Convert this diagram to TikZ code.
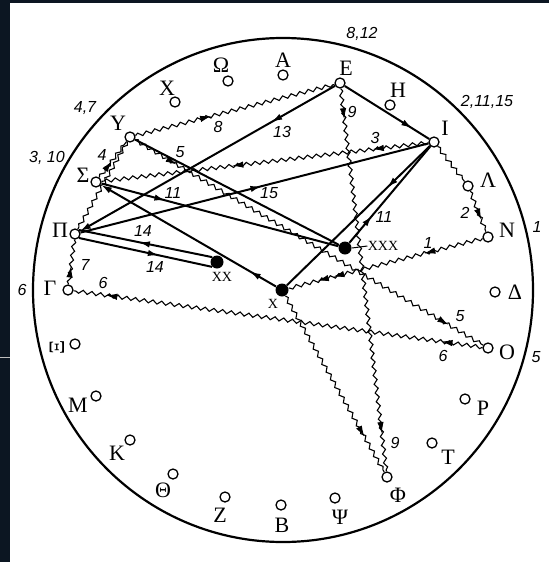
\documentclass[tikz,border=0pt]{standalone}
\usepackage{fontspec}
\setmainfont{Liberation Serif}
\setsansfont{Liberation Sans}
\usetikzlibrary{arrows.meta, decorations.pathmorphing, decorations.markings}
\definecolor{pagebg}{RGB}{12, 22, 34}

\begin{document}
\begin{tikzpicture}[
        x=0.5pt, y=-0.5pt,
        stn/.style={draw, circle, line width=0.65pt, minimum size=5pt, inner sep=0pt, fill=white},
        dot/.style={fill, circle, minimum size=6.5pt, inner sep=0pt},
        glyph/.style={font=\fontsize{11}{13}\selectfont, inner sep=0pt},
        num/.style={font=\sffamily\itshape\fontsize{8}{9}\selectfont, inner sep=0pt},
        tag/.style={font=\fontsize{7}{8}\selectfont, inner sep=0pt},
        rim/.style={line width=1.1pt},
        route/.style={line width=1pt},
        wavy/.style={preaction={draw, line width=0.55pt, decorate, decoration={snake, segment length=4.4pt, amplitude=0.9pt}}},
        tip/.style={postaction={decorate, decoration={markings, mark=at position #1 with {\arrow{Latex[length=5.5pt,width=3.2pt]}}}}}
    ]
    \useasboundingbox (0,0) rectangle (549,562);
    % Background
    \fill[pagebg] (0,0) rectangle (549,562);
    \fill[white] (10,3) rectangle (549,562);
    \draw[gray!50, line width=0.5pt] (0,357) -- (10,357);
    \draw[rim] (283,290) ellipse [x radius=125pt, y radius=126pt];

    % Stations
    \node[stn] (Om) at (228,81) {};
    \node[stn] (Al) at (283,75) {};
    \node[stn] (Ch) at (175,102) {};
    \node[stn] (Up) at (130,137) {};
    \node[stn] (Si) at (96,182) {};
    \node[stn] (Pi) at (75,234) {};
    \node[stn] (Ga) at (68,290) {};
    \node[stn] (Xi) at (75,344) {};
    \node[stn] (Mu) at (96,396) {};
    \node[stn] (Ka) at (130,440) {};
    \node[stn] (Th) at (173,474) {};
    \node[stn] (Ze) at (225,497) {};
    \node[stn] (Be) at (281,505) {};
    \node[stn] (Ps) at (335,498) {};
    \node[stn] (Ph) at (387,477) {};
    \node[stn] (Ta) at (432,443) {};
    \node[stn] (Rh) at (465,399) {};
    \node[stn] (Oo) at (488,348) {};
    \node[stn] (De) at (495,292) {};
    \node[stn] (Nu) at (488,237) {};
    \node[stn] (La) at (468,186) {};
    \node[stn] (Io) at (434,142) {};
    \node[stn] (Et) at (390,105) {};
    \node[stn] (Ep) at (340,83) {};

    \node[dot] (x1) at (282,290) {};
    \node[dot] (x2) at (217,262) {};
    \node[dot] (x3) at (345,248) {};

    % Letters
    \node[glyph] (lOm) at (221,65) {Ω};
    \node[glyph] (lAl) at (283,60) {Α};
    \node[glyph] (lCh) at (167,88) {Χ};
    \node[glyph] (lUp) at (118,123) {Υ};
    \node[glyph] (lSi) at (83,175) {Σ};
    \node[glyph] (lPi) at (60,230) {Π};
    \node[glyph] (lGa) at (50,288) {Γ};
    \node[glyph, rotate=90] (lXi) at (57,347) {Ξ};
    \node[glyph] (lMu) at (78,405) {Μ};
    \node[glyph] (lKa) at (117,453) {Κ};
    \node[glyph] (lTh) at (163,490) {Θ};
    \node[glyph] (lZe) at (220,515) {Ζ};
    \node[glyph] (lBe) at (282,525) {Β};
    \node[glyph] (lPs) at (340,517) {Ψ};
    \node[glyph] (lPh) at (398,495) {Φ};
    \node[glyph] (lTa) at (448,457) {Τ};
    \node[glyph] (lRh) at (483,408) {Ρ};
    \node[glyph] (lOo) at (507,352) {Ο};
    \node[glyph] (lDe) at (515,292) {Δ};
    \node[glyph] (lNu) at (507,230) {Ν};
    \node[glyph] (lLa) at (488,180) {Λ};
    \node[glyph] (lIo) at (445,128) {Ι};
    \node[glyph] (lEt) at (398,90) {Η};
    \node[glyph] (lEp) at (346,68) {Ε};

    \node[tag] (lx1) at (273,304) {X};
    \node[tag] (lx2) at (222,277) {XX};
    \node[tag] (lx3) at (383,246) {XXX};
    \draw[line width=0.5pt] (x3.east) -- (lx3.west);

    % Rim numbers
    \node[num] (r812) at (362,34) {8,12};
    \node[num] (r21115) at (487,102) {2,11,15};
    \node[num] (r1) at (537,227) {1};
    \node[num] (r5) at (536,357) {5};
    \node[num] (r6) at (22,290) {6};
    \node[num] (r310) at (47,158) {3, 10};
    \node[num] (r47) at (85,108) {4,7};

    % Routes
    \draw[route, tip=0.8] (Ep) -- (Io);
    \draw[route, -{Latex[length=5.5pt,width=3.2pt]}, tip=0.25] (Ep) -- (Pi);
    \draw[route, tip=0.52] (Pi) -- (Io);
    \draw[route, tip=0.27] (Si) -- (x3);
    \draw[route, -{Latex[length=5.5pt,width=3.2pt]}, tip=0.15] (x1) -- (Si);
    \draw[route] (Up) -- (x3);
    \draw[route, tip=0.3] (Io) -- (x1);
    \draw[route, tip=0.28] (x3) -- (Io);
    \draw[route, tip=0.55] (x2.north west) -- (Pi.north east);
    \draw[route, tip=0.6] (Pi.south east) -- (x2.south west);

    \path[wavy, tip=0.3, tip=0.77, tip=0.85] (Nu) -- (x1);
    \path[wavy] (Io) -- (La);
    \path[wavy, tip=0.7] (La) -- (Nu);
    \path[wavy, tip=0.17, tip=0.6] (Io) -- (Si);
    \path[wavy, tip=0.45] (Si) -- (Up);
    \path[wavy, tip=0.12, tip=0.9] (Up) -- (Oo);
    \path[wavy, tip=0.1, tip=0.92] (Oo) -- (Ga);
    \path[wavy, tip=0.4] (Ga) -- (Pi);
    \path[wavy, tip=0.38] (Up) -- (Ep);
    \path[wavy, tip=0.08, tip=0.9] (Ep) -- (Ph);
    \path[wavy] (Up) -- (Pi);
    \path[wavy, tip=0.8] (x1) -- (Ph);

    % Step numbers
    \node[num] (n1) at (428,243) {1};
    \node[num] (n2) at (465,213) {2};
    \node[num] (n3) at (375,138) {3};
    \node[num] (n4) at (102,155) {4};
    \node[num] (n5a) at (180,152) {5};
    \node[num] (n5b) at (460,316) {5};
    \node[num] (n6a) at (443,356) {6};
    \node[num] (n6b) at (103,283) {6};
    \node[num] (n7) at (85,265) {7};
    \node[num] (n8) at (218,127) {8};
    \node[num] (n9a) at (352,112) {9};
    \node[num] (n9b) at (395,443) {9};
    \node[num] (n11a) at (173,193) {11};
    \node[num] (n11b) at (384,217) {11};
    \node[num] (n13) at (282,132) {13};
    \node[num] (n14a) at (143,231) {14};
    \node[num] (n14b) at (155,267) {14};
    \node[num] (n15) at (269,193) {15};
\end{tikzpicture}
\end{document}
